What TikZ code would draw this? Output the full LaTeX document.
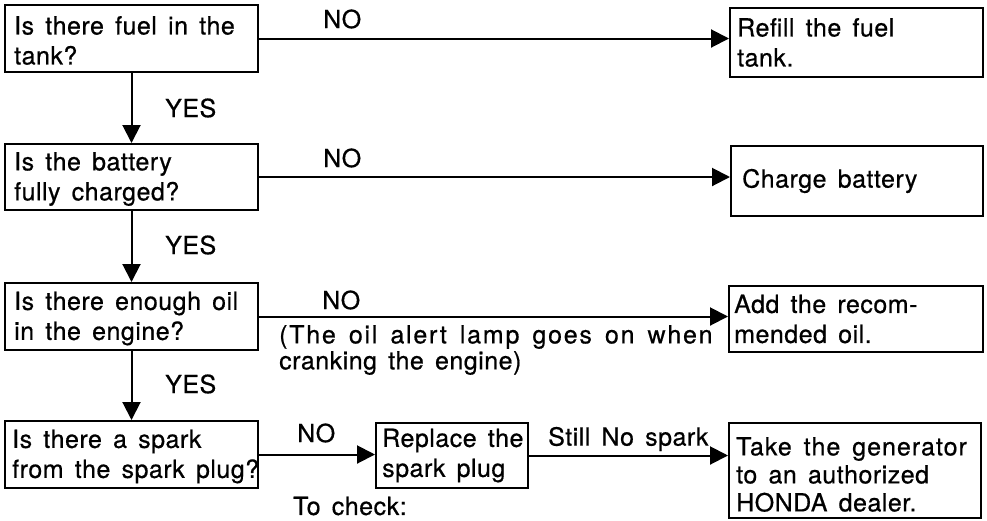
\documentclass[tikz,border=0pt]{standalone}
\usepackage{fontspec}
\setmainfont{TeX Gyre Heros}[LetterSpace=2,WordSpace=1.5,FakeBold=0.6]
\usetikzlibrary{arrows.meta}
\begin{document}
\begin{tikzpicture}[x=1pt,y=-1pt,
  box/.style={draw, line width=2pt, rectangle, inner sep=0pt, anchor=north west},
  txt/.style={anchor=west, align=left, inner sep=0pt, font=\fontsize{25}{30}\selectfont},
  lbl/.style={anchor=west, inner sep=0pt, font=\fontsize{25}{30}\selectfont},
  conn/.style={line width=2pt, -{Triangle[length=18pt,width=18pt]}},
]
\useasboundingbox (0,0) rectangle (987,520);
% question boxes
\node[box, minimum width=253pt, minimum height=67pt] (q1) at (4,4) {};
\node[box, minimum width=253pt, minimum height=66pt] (q2) at (4,143) {};
\node[box, minimum width=253pt, minimum height=67pt] (q3) at (4,282) {};
\node[box, minimum width=253pt, minimum height=67pt] (q4) at (4,420) {};
% action boxes
\node[box, minimum width=253pt, minimum height=69pt] (r1) at (729,7) {};
\node[box, minimum width=252pt, minimum height=70pt] (r2) at (730,145) {};
\node[box, minimum width=254pt, minimum height=66pt] (r3) at (728,285) {};
\node[box, minimum width=152pt, minimum height=65pt] (rp) at (375,422) {};
\node[box, minimum width=252pt, minimum height=95pt] (r4) at (728,422) {};
% texts
\node[txt] (q1t) at ([xshift=10pt,yshift=-2pt]q1.west) {Is there fuel in the\\tank?};
\node[txt] (q2t) at ([xshift=10pt,yshift=-2pt]q2.west) {Is the battery\\fully charged?};
\node[txt] (q3t) at ([xshift=10pt,yshift=-2pt]q3.west) {Is there enough oil\\in the engine?};
\node[txt] (q4t) at ([xshift=8pt,yshift=-2pt]q4.west) {Is there a spark\\from the spark plug?};
\node[txt] (r1t) at ([xshift=8pt]r1.west) {Refill the fuel\\tank.};
\node[txt] (r2t) at ([xshift=12pt]r2.west) {Charge battery};
\node[txt] (r3t) at ([xshift=6pt]r3.west) {Add the recom-\\mended oil.};
\node[txt] (rpt) at ([xshift=7pt]rp.west) {Replace the\\spark plug};
\node[txt, font=\fontsize{25}{28}\selectfont] (r4t) at ([xshift=8pt,yshift=-4pt]r4.west) {\addfontfeature{LetterSpace=4}Take the generator\\to an authorized\\HONDA dealer.};
% connectors
\draw[conn] (q1.south) -- (q2.north);
\draw[conn] (q2.south) -- (q3.north);
\draw[conn] (q3.south) -- (q4.north);
\draw[conn] (q1.east) -- (q1.east -| r1.west);
\draw[conn] (q2.east) -- (q2.east -| r2.west);
\draw[conn] (q3.east) -- (q3.east -| r3.west);
\draw[conn] (q4.east) -- (q4.east -| rp.west);
\draw[conn] (rp.east) -- (rp.east -| r4.west);
% labels
\node[lbl] (y1) at (165,108) {YES};
\node[lbl] (y2) at (165,245) {YES};
\node[lbl] (y3) at (165,384) {YES};
\node[lbl] (n1) at (323,19) {NO};
\node[lbl] (n2) at (323,158) {NO};
\node[lbl] (n3) at (322,300) {NO};
\node[lbl] (n4) at (297,433) {NO};
\node[lbl] (sn) at (548,439) {Still No spark};
\node[txt, font=\fontsize{25}{26}\selectfont] (note) at (279,350) {\addfontfeature{LetterSpace=7}(The oil alert lamp goes on when\\cranking the engine)};
\node[lbl] (tc) at (293,506) {To check:};
\end{tikzpicture}
\end{document}
